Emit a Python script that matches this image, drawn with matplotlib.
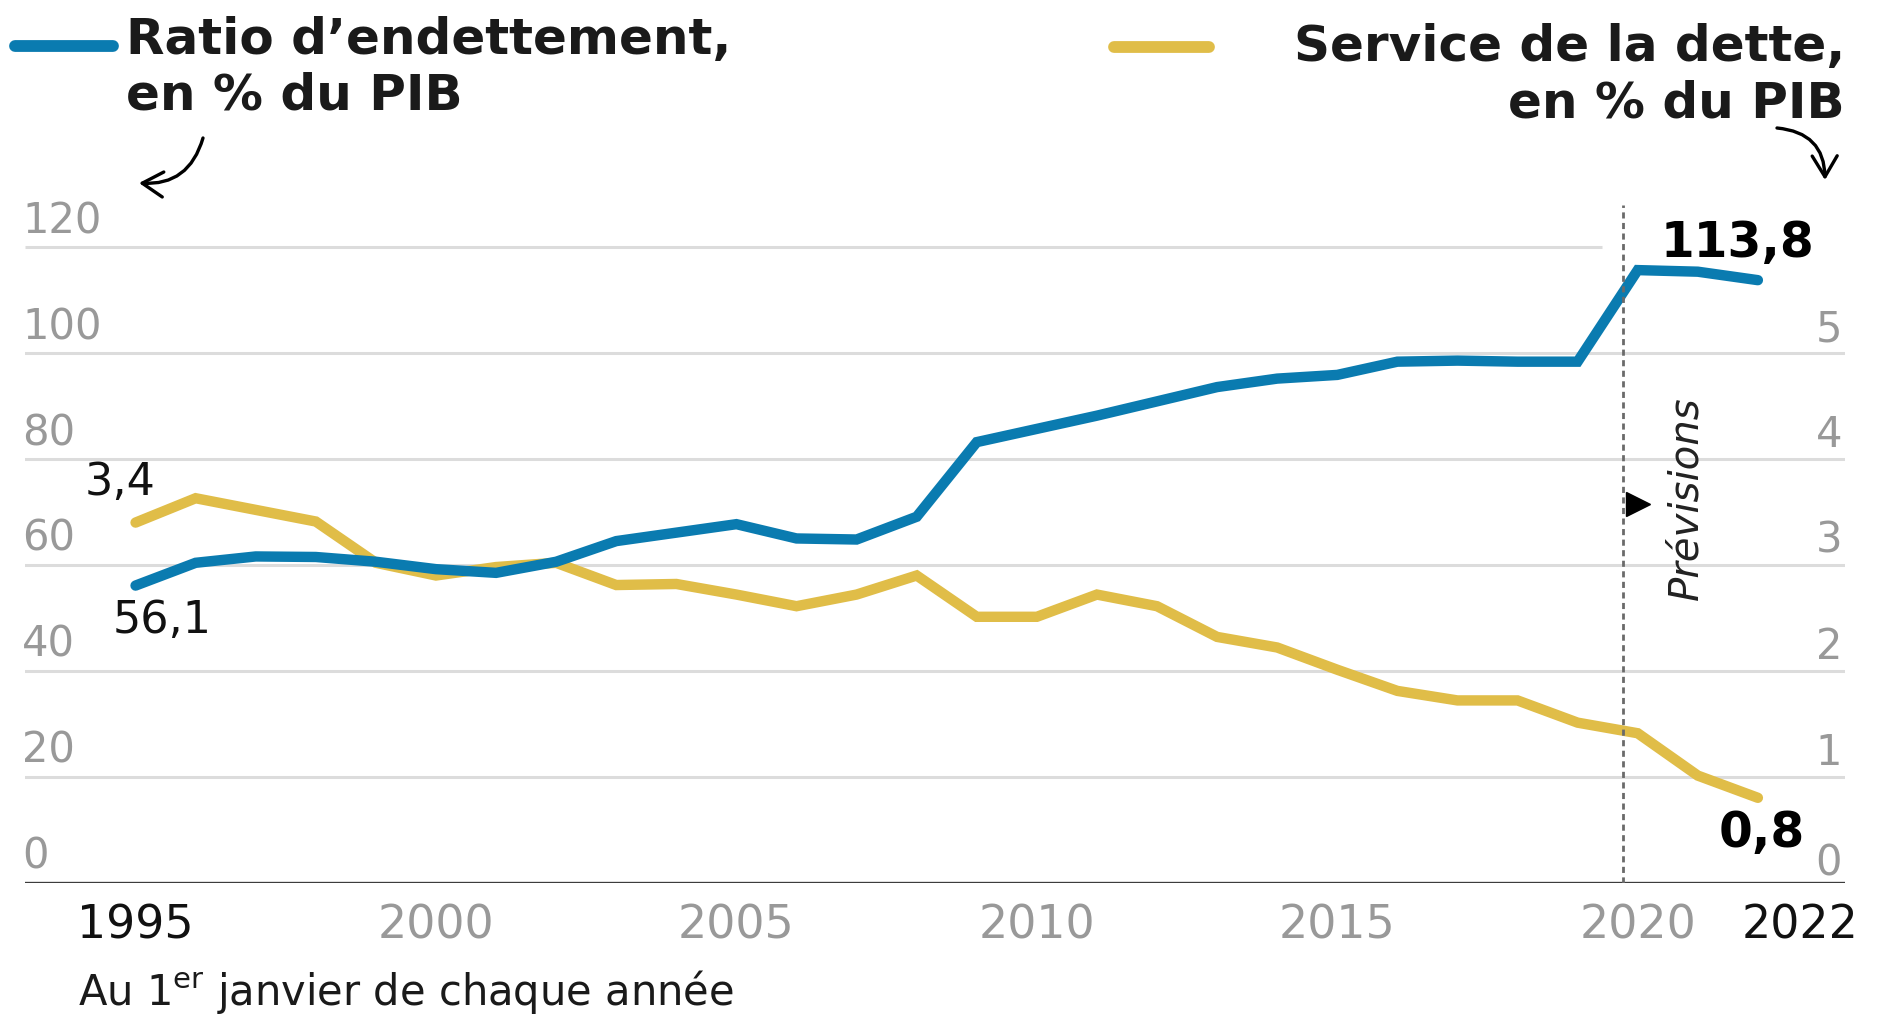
import matplotlib
matplotlib.use("Agg")
import matplotlib.pyplot as plt
import matplotlib.transforms as mtransforms
from matplotlib.lines import Line2D
from matplotlib.patches import FancyArrowPatch

# ---------------- data ----------------
years = list(range(1995, 2023))
ratio_endettement = [56.1, 60.4, 61.6, 61.5, 60.6, 59.2, 58.5, 60.6, 64.5, 66.1,
                     67.7, 65.0, 64.8, 69.1, 83.2, 85.7, 88.2, 90.9, 93.6, 95.2,
                     95.9, 98.4, 98.6, 98.4, 98.4, 115.7, 115.4, 113.8]
service_dette = [3.4, 3.63, 3.52, 3.41, 3.02, 2.90, 2.98, 3.02, 2.81, 2.82,
                 2.72, 2.61, 2.72, 2.90, 2.51, 2.51, 2.72, 2.61, 2.32, 2.22,
                 2.01, 1.81, 1.72, 1.72, 1.51, 1.41, 1.01, 0.8]
left_ticks = [0, 20, 40, 60, 80, 100, 120]
right_ticks = [0, 1, 2, 3, 4, 5]
x_ticks = [1995, 2000, 2005, 2010, 2015, 2020, 2022]
x_tick_labels = ["1995", "2000", "2005", "2010", "2015", "2020", "2022"]
forecast_start = 2019.75

BLUE = "#0a7bb0"
YELLOW = "#e0bd48"
GREY = "#999999"
GRID = "#dcdcdc"

plt.rcParams["font.family"] = ["DejaVu Sans"]

W, H = 1882, 1016
fig = plt.figure(figsize=(W / 100, H / 100), dpi=100)
fig.patch.set_facecolor("white")


def fx(x):
    return x / W


def fy(y):
    return 1 - y / H


# lower axes (right scale, gridlines, yellow, x ticks); upper twin (left scale, blue)
ax2 = fig.add_axes([fx(25), fy(882.5), (1845 - 25) / W, (882.5 - 205) / H])
ax = ax2.twinx()
ax.yaxis.tick_left()
ax2.yaxis.tick_right()

xmin, xmax = 1993.16, 2023.45
for a in (ax, ax2):
    a.set_xlim(xmin, xmax)
    for s in a.spines.values():
        s.set_visible(False)
    a.patch.set_visible(False)
ax.set_ylim(0, 128)
ax2.set_ylim(0, 6.4)

# gridlines (right-axis units: 1 = 20 %)
for v in [1, 2, 3, 4, 5]:
    ax2.axhline(v, color=GRID, lw=2.2, zorder=0)
ax2.hlines(6, xmin, 2019.4, color=GRID, lw=2.2, zorder=0)

# series
ax2.plot(years, service_dette, color=YELLOW, lw=7.5, solid_capstyle="round",
         solid_joinstyle="miter", zorder=3)
ax.plot(years, ratio_endettement, color=BLUE, lw=7.5, solid_capstyle="round",
        solid_joinstyle="miter", zorder=3)

# baseline
ax.axhline(0, color="#3c3c3c", lw=2.4, zorder=4)

# forecast separator
ax.axvline(forecast_start, ymin=0, ymax=1, color="#6a6a6a", lw=2.0,
           linestyle=(0, (2.2, 1.6)), zorder=5)
ax.plot([2020.0], [71.5], marker=">", ms=17, color="black", zorder=6)
ax.text(2020.8, 72.6, "Prévisions", rotation=90, ha="center", va="center",
        style="italic", fontsize=29, color="#222222")

# ---------------- ticks ----------------
ax.set_yticks(left_ticks, [str(t) for t in left_ticks])
ax2.set_yticks(right_ticks, [str(t) for t in right_ticks])
ax2.set_xticks(x_ticks, x_tick_labels)
ax.tick_params(axis="y", length=0, pad=0, labelsize=30, labelcolor=GREY,
               left=False, labelleft=True, right=False, labelright=False)
ax2.tick_params(axis="y", length=0, pad=0, labelsize=30, labelcolor=GREY,
                right=False, labelright=True, left=False, labelleft=False)
ax2.tick_params(axis="x", length=0, pad=15, labelsize=33, labelcolor=GREY)

for lab in ax.get_yticklabels():
    lab.set_horizontalalignment("left")
    lab.set_verticalalignment("baseline")
    lab.set_transform(lab.get_transform() +
                      mtransforms.ScaledTranslation(-0.03, 0.14, fig.dpi_scale_trans))
for i, lab in enumerate(ax2.get_yticklabels()):
    lab.set_horizontalalignment("right")
    lab.set_verticalalignment("baseline")
    dy = 0.07 if i == 0 else 0.12
    lab.set_transform(lab.get_transform() +
                      mtransforms.ScaledTranslation(-0.03, dy, fig.dpi_scale_trans))

xlabs = ax2.get_xticklabels()
xlabs[0].set_color("#111111")
xlabs[-1].set_color("#111111")
xlabs[-1].set_transform(xlabs[-1].get_transform() +
                        mtransforms.ScaledTranslation(0.42, 0, fig.dpi_scale_trans))

# ---------------- value labels ----------------
px2pt = 0.72
ax2.annotate("3,4", xy=(years[0], service_dette[0]), xytext=(-50.6 * px2pt, 27.6 * px2pt),
             textcoords="offset points", ha="left", va="baseline", fontsize=32, color="#111111")
ax.annotate("56,1", xy=(years[0], ratio_endettement[0]), xytext=(-22.6 * px2pt, -47.4 * px2pt),
            textcoords="offset points", ha="left", va="baseline", fontsize=32, color="#111111")
ax.annotate("113,8", xy=(years[-1], ratio_endettement[-1]), xytext=(56 * px2pt, 23 * px2pt),
            textcoords="offset points", ha="right", va="baseline", fontsize=35,
            fontweight="bold", color="black")
ax2.annotate("0,8", xy=(years[-1], service_dette[-1]), xytext=(47 * px2pt, -49 * px2pt),
             textcoords="offset points", ha="right", va="baseline", fontsize=35,
             fontweight="bold", color="black")

# ---------------- legend-like headers ----------------
fig.add_artist(Line2D([fx(15), fx(113)], [fy(46), fy(46)], color=BLUE, lw=8.5,
                      solid_capstyle="round", transform=fig.transFigure))
fig.text(fx(126), fy(54), "Ratio d’endettement,", ha="left", va="baseline",
         fontsize=36, fontweight="bold", color="#1a1a1a")
fig.text(fx(126), fy(110), "en % du PIB", ha="left", va="baseline",
         fontsize=36, fontweight="bold", color="#1a1a1a")

fig.add_artist(Line2D([fx(1114), fx(1209)], [fy(47), fy(47)], color=YELLOW, lw=8.5,
                      solid_capstyle="round", transform=fig.transFigure))
fig.text(fx(1845), fy(61), "Service de la dette,", ha="right", va="baseline",
         fontsize=36, fontweight="bold", color="#1a1a1a")
fig.text(fx(1845), fy(117), "en % du PIB", ha="right", va="baseline",
         fontsize=36, fontweight="bold", color="#1a1a1a")

arrow_kw = dict(arrowstyle="->,head_length=0.5,head_width=0.3", lw=2.4,
                color="black", mutation_scale=30, shrinkA=0, shrinkB=0)
fig.add_artist(FancyArrowPatch(
    (fx(203), fy(138)), (fx(139), fy(183)), transform=fig.transFigure,
    connectionstyle="arc3,rad=-0.4", **arrow_kw))
fig.add_artist(FancyArrowPatch(
    (fx(1777), fy(128)), (fx(1825), fy(180)), transform=fig.transFigure,
    connectionstyle="arc3,rad=-0.45", **arrow_kw))

# subtitle
fig.text(fx(78), fy(1005), r"Au 1$^{\mathrm{er}}$ janvier de chaque année", ha="left",
         va="baseline", fontsize=30, color="#1a1a1a")

fig.savefig("out.png", dpi=100, facecolor="white")
